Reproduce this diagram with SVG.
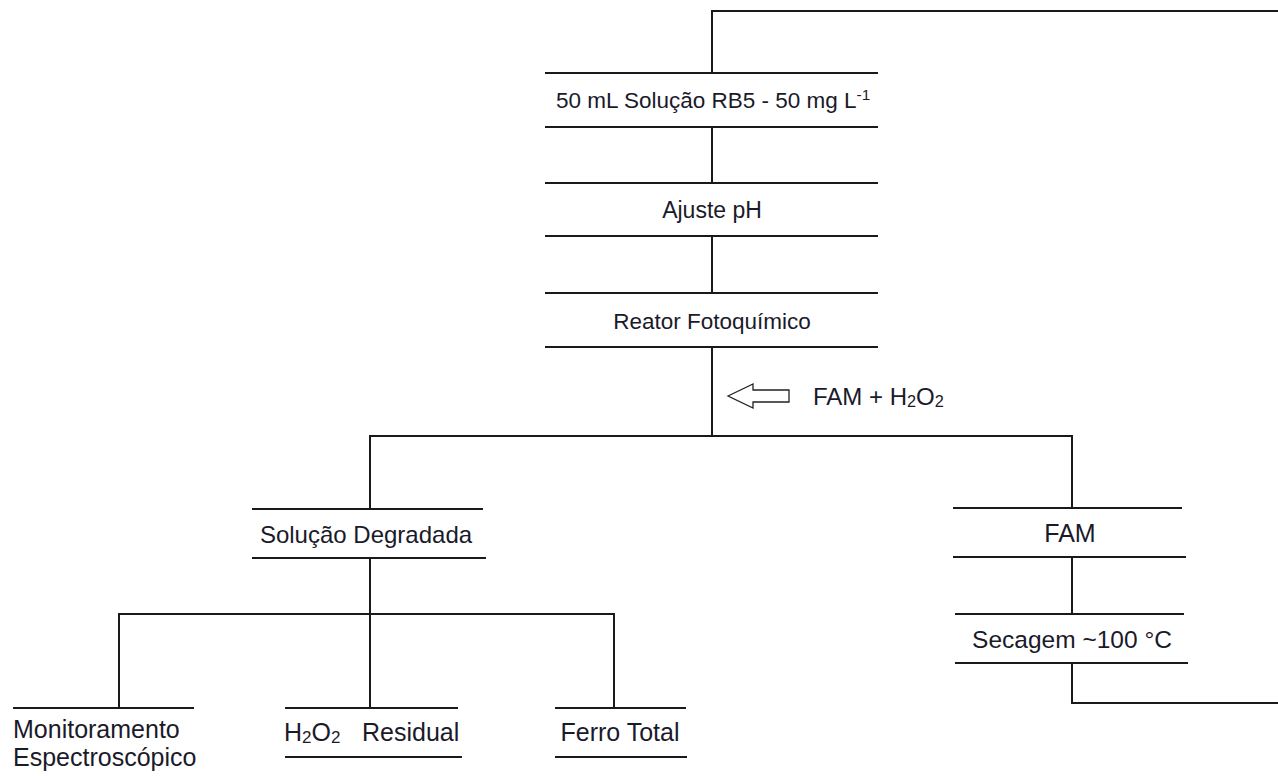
<svg xmlns="http://www.w3.org/2000/svg" width="1278" height="776" viewBox="0 0 1278 776">
<style>
.ln{stroke:#1a1a1a;stroke-width:2;fill:none}
.t{font-family:"Liberation Sans",Arial,sans-serif;font-size:23px;fill:#1a1a2a}
.m{font-size:24px}
.l{font-size:25px}
.c{text-anchor:middle}
.sub{font-size:0.68em}
</style>
<rect width="1278" height="776" fill="#fff"/>
<g id="connectors">
<polyline class="ln" points="712,73 712,11 1280,11"/>
<line class="ln" x1="712" y1="127" x2="712" y2="183"/>
<line class="ln" x1="712" y1="236" x2="712" y2="293"/>
<line class="ln" x1="712" y1="347" x2="712" y2="436"/>
<polyline class="ln" points="370,509 370,436 1072,436 1072,508"/>
<line class="ln" x1="370" y1="558" x2="370" y2="708"/>
<polyline class="ln" points="119,708 119,614 614,614 614,708"/>
<line class="ln" x1="1072" y1="557" x2="1072" y2="614"/>
<polyline class="ln" points="1072,663 1072,703 1280,703"/>
</g>
<g id="n1">
<line class="ln" x1="545" y1="73" x2="878" y2="73"/>
<line class="ln" x1="545" y1="127" x2="878" y2="127"/>
<text class="t" x="556" y="108" style="font-size:22.5px">50 mL Solução RB5 - 50 mg L<tspan class="sub" dy="-8">-1</tspan></text>
</g>
<g id="n2">
<line class="ln" x1="545" y1="183" x2="878" y2="183"/>
<line class="ln" x1="545" y1="236" x2="878" y2="236"/>
<text class="t c" x="712" y="218">Ajuste pH</text>
</g>
<g id="n3">
<line class="ln" x1="545" y1="293" x2="878" y2="293"/>
<line class="ln" x1="545" y1="347" x2="878" y2="347"/>
<text class="t c" x="712" y="329" style="font-size:22.5px">Reator Fotoquímico</text>
</g>
<g id="add">
<polygon points="728,396 753,384 753,390 789,390 789,402 753,402 753,408" fill="#fff" stroke="#222" stroke-width="1.3"/>
<text class="t m" x="813" y="405">FAM + H<tspan class="sub" dy="2">2</tspan><tspan dy="-2">O</tspan><tspan class="sub" dy="2">2</tspan></text>
</g>
<g id="n4">
<line class="ln" x1="252" y1="509" x2="483" y2="509"/>
<line class="ln" x1="252" y1="558" x2="486" y2="558"/>
<text class="t m c" x="366" y="543">Solução Degradada</text>
</g>
<g id="n5">
<line class="ln" x1="13" y1="708" x2="194" y2="708"/>
<text class="t l" x="13" y="738">Monitoramento</text>
<text class="t l" x="13" y="766">Espectroscópico</text>
</g>
<g id="n6">
<line class="ln" x1="285" y1="708" x2="458" y2="708"/>
<line class="ln" x1="285" y1="757" x2="462" y2="757"/>
<text class="t l" x="284" y="741">H<tspan class="sub" dy="2">2</tspan><tspan dy="-2">O</tspan><tspan class="sub" dy="2">2</tspan></text>
<text class="t l" x="362" y="741">Residual</text>
</g>
<g id="n7">
<line class="ln" x1="555" y1="708" x2="686" y2="708"/>
<line class="ln" x1="555" y1="757" x2="687" y2="757"/>
<text class="t l c" x="620" y="741">Ferro Total</text>
</g>
<g id="n8">
<line class="ln" x1="953" y1="508" x2="1182" y2="508"/>
<line class="ln" x1="953" y1="557" x2="1186" y2="557"/>
<text class="t l c" x="1070" y="542">FAM</text>
</g>
<g id="n9">
<line class="ln" x1="955" y1="614" x2="1184" y2="614"/>
<line class="ln" x1="955" y1="663" x2="1188" y2="663"/>
<text class="t c" x="1072" y="648" style="font-size:24.5px">Secagem ~100 °C</text>
</g>
</svg>
